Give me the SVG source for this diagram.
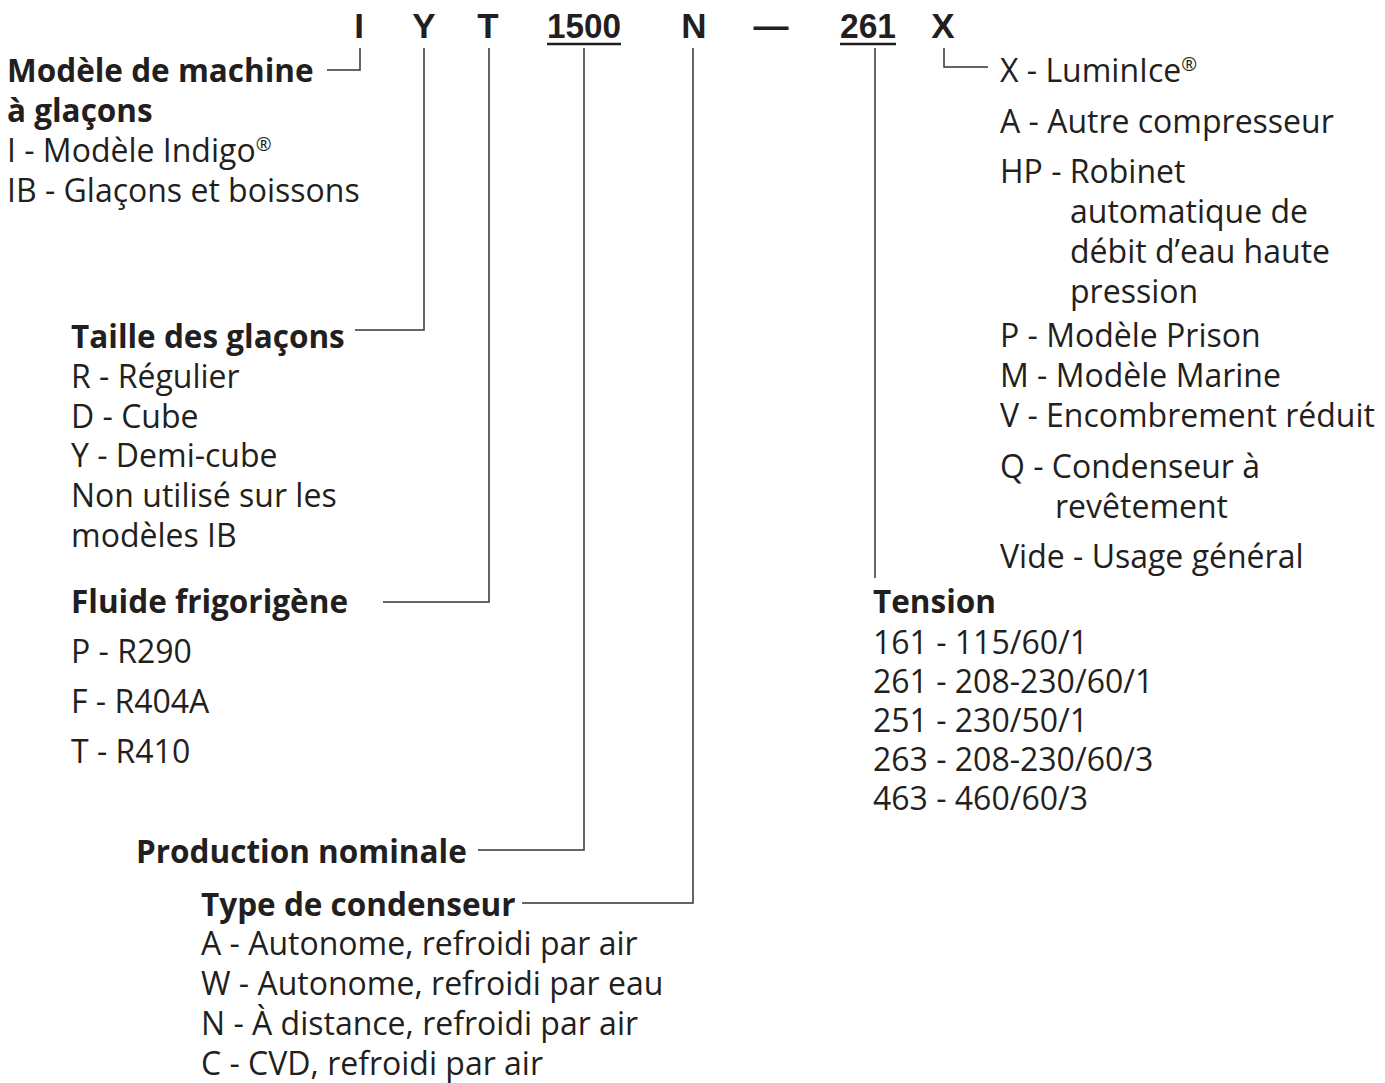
<svg xmlns="http://www.w3.org/2000/svg" width="1385" height="1083" viewBox="0 0 1385 1083">
<style>
text{font-family:"Open Sans","Noto Sans","Liberation Sans",sans-serif;font-size:32px;fill:#231f20}
.b{font-weight:bold;font-size:31.5px}
.r{font-size:19px}
.h{font-family:"Liberation Sans Narrow","Liberation Sans",sans-serif;font-weight:bold;font-size:35px;text-anchor:middle}
.c line,.c polyline{stroke:#333;stroke-width:1.5;fill:none}
</style>
<rect width="1385" height="1083" fill="#fff"/>
<g id="header">
<text class="h" x="359" y="38">I</text>
<text class="h" x="424" y="38">Y</text>
<text class="h" x="488" y="38">T</text>
<text class="h" x="584" y="38" textLength="74" lengthAdjust="spacingAndGlyphs">1500</text>
<text class="h" x="694" y="38">N</text>
<text class="h" x="771" y="38">—</text>
<text class="h" x="868" y="38" textLength="56" lengthAdjust="spacingAndGlyphs">261</text>
<text class="h" x="943" y="38">X</text>
<line x1="547" y1="44" x2="621" y2="44" stroke="#231f20" stroke-width="2.5"/>
<line x1="840" y1="44" x2="896" y2="44" stroke="#231f20" stroke-width="2.5"/>
</g>
<g class="c" id="connectors">
<polyline points="360,48 360,70 327,70"/>
<polyline points="424,48 424,330 355,330"/>
<polyline points="489,48 489,602 383,602"/>
<polyline points="584,48 584,850 478,850"/>
<polyline points="693,48 693,903 522,903"/>
<line x1="875" y1="48" x2="875" y2="578"/>
<polyline points="944,48 944,67 988,67"/>
</g>
<g id="machine">
<text class="b" x="7" y="82">Modèle de machine</text>
<text class="b" x="7" y="122">à glaçons</text>
<text x="7" y="162">I - Modèle Indigo<tspan class="r" dy="-11">®</tspan></text>
<text x="7" y="202">IB - Glaçons et boissons</text>
</g>
<g id="taille">
<text class="b" x="71" y="348">Taille des glaçons</text>
<text x="71" y="388">R - Régulier</text>
<text x="71" y="428">D - Cube</text>
<text x="71" y="467">Y - Demi-cube</text>
<text x="71" y="507">Non utilisé sur les</text>
<text x="71" y="547">modèles IB</text>
</g>
<g id="fluide">
<text class="b" x="71" y="613">Fluide frigorigène</text>
<text x="71" y="663">P - R290</text>
<text x="71" y="713">F - R404A</text>
<text x="71" y="763">T - R410</text>
</g>
<g id="production">
<text class="b" x="136" y="863">Production nominale</text>
</g>
<g id="condenseur">
<text class="b" x="201" y="916">Type de condenseur</text>
<text x="201" y="955">A - Autonome, refroidi par air</text>
<text x="201" y="995">W - Autonome, refroidi par eau</text>
<text x="201" y="1035">N - À distance, refroidi par air</text>
<text x="201" y="1075">C - CVD, refroidi par air</text>
</g>
<g id="options">
<text x="1000" y="82">X - LuminIce<tspan class="r" dy="-11">®</tspan></text>
<text x="1000" y="133">A - Autre compresseur</text>
<text x="1000" y="183">HP - Robinet</text>
<text x="1070" y="223">automatique de</text>
<text x="1070" y="263">débit d’eau haute</text>
<text x="1070" y="303">pression</text>
<text x="1000" y="347">P - Modèle Prison</text>
<text x="1000" y="387">M - Modèle Marine</text>
<text x="1000" y="427">V - Encombrement réduit</text>
<text x="1000" y="478">Q - Condenseur à</text>
<text x="1055" y="518">revêtement</text>
<text x="1000" y="568">Vide - Usage général</text>
</g>
<g id="tension">
<text class="b" x="873" y="613">Tension</text>
<text x="873" y="654">161 - 115/60/1</text>
<text x="873" y="693">261 - 208-230/60/1</text>
<text x="873" y="732">251 - 230/50/1</text>
<text x="873" y="771">263 - 208-230/60/3</text>
<text x="873" y="810">463 - 460/60/3</text>
</g>
</svg>
